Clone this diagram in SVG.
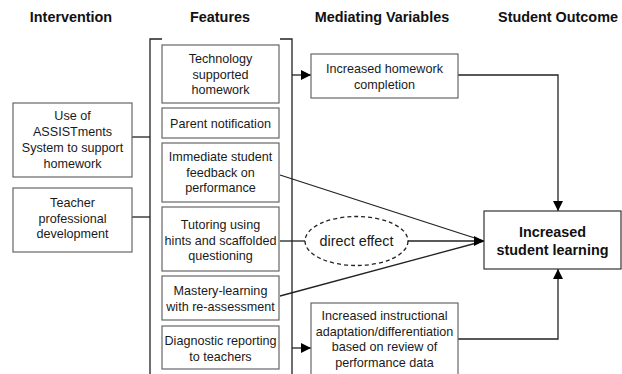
<svg xmlns="http://www.w3.org/2000/svg" width="622" height="374" viewBox="0 0 622 374">
<style>
.hdr{font-family:"Liberation Sans",Arial,sans-serif;font-size:14.4px;font-weight:bold;fill:#111;text-anchor:middle}
.t{font-family:"Liberation Sans",Arial,sans-serif;font-size:12.6px;fill:#1a1a1a;text-anchor:middle}
.b{font-family:"Liberation Sans",Arial,sans-serif;font-size:14.4px;font-weight:bold;fill:#111;text-anchor:middle}
.de{font-family:"Liberation Sans",Arial,sans-serif;font-size:14.4px;fill:#1a1a1a;text-anchor:middle}
.box{fill:#fff;stroke:#666;stroke-width:1.2}
.obox{fill:#fff;stroke:#333;stroke-width:1.2}
.ln{fill:none;stroke:#222;stroke-width:1.3}
</style>
<defs>
<marker id="ah" viewBox="0 0 10 10" refX="10" refY="5" markerWidth="10" markerHeight="10" markerUnits="userSpaceOnUse" orient="auto">
<path d="M0,0 L10,5 L0,10 Z" fill="#000"/>
</marker>
</defs>
<rect width="622" height="374" fill="#fff"/>
<g id="headers">
<text class="hdr" x="71" y="22">Intervention</text>
<text class="hdr" x="220" y="22">Features</text>
<text class="hdr" x="382" y="22">Mediating Variables</text>
<text class="hdr" x="558" y="22">Student Outcome</text>
</g>
<g id="connectors">
<path class="ln" d="M162,39 H150 V380"/>
<path class="ln" d="M280,39 H292 V380"/>
<path class="ln" d="M132,137 H150"/>
<path class="ln" d="M132,217 H150"/>
<path class="ln" d="M292,75 H311" marker-end="url(#ah)"/>
<path class="ln" d="M292,348 H311" marker-end="url(#ah)"/>
<path class="ln" d="M458,75 H558 V211" marker-end="url(#ah)"/>
<path class="ln" d="M458,339 H558 V269" marker-end="url(#ah)"/>
<path class="ln" d="M280,175 L484,241"/>
<path class="ln" d="M280,296 L484,241"/>
<path class="ln" d="M280,241 H305"/>
<path class="ln" d="M408,241 H484" marker-end="url(#ah)"/>
</g>
<g id="n-assist">
<rect class="box" x="13" y="103" width="119" height="74"/>
<text class="t" x="72.5" y="120">Use of</text>
<text class="t" x="72.5" y="136">ASSISTments</text>
<text class="t" x="72.5" y="152">System to support</text>
<text class="t" x="72.5" y="168">homework</text>
</g>
<g id="n-teacher">
<rect class="box" x="13" y="188" width="119" height="64"/>
<text class="t" x="72.5" y="207">Teacher</text>
<text class="t" x="72.5" y="222.5">professional</text>
<text class="t" x="72.5" y="238">development</text>
</g>
<g id="f-tech">
<rect class="box" x="162" y="45" width="117" height="58"/>
<text class="t" x="220.5" y="63">Technology</text>
<text class="t" x="220.5" y="78.5">supported</text>
<text class="t" x="220.5" y="94">homework</text>
</g>
<g id="f-parent">
<rect class="box" x="162" y="108" width="117" height="30"/>
<text class="t" x="220.5" y="127.5">Parent notification</text>
</g>
<g id="f-feedback">
<rect class="box" x="162" y="143" width="117" height="59"/>
<text class="t" x="220.5" y="161">Immediate student</text>
<text class="t" x="220.5" y="176.5">feedback on</text>
<text class="t" x="220.5" y="192">performance</text>
</g>
<g id="f-tutor">
<rect class="box" x="162" y="207" width="117" height="64"/>
<text class="t" x="220.5" y="229">Tutoring using</text>
<text class="t" x="220.5" y="244.5">hints and scaffolded</text>
<text class="t" x="220.5" y="260">questioning</text>
</g>
<g id="f-mastery">
<rect class="box" x="162" y="276" width="117" height="44"/>
<text class="t" x="220.5" y="295">Mastery-learning</text>
<text class="t" x="220.5" y="311">with re-assessment</text>
</g>
<g id="f-diag">
<rect class="box" x="162" y="326" width="117" height="43"/>
<text class="t" x="220.5" y="345">Diagnostic reporting</text>
<text class="t" x="220.5" y="360.5">to teachers</text>
</g>
<g id="m-homework">
<rect class="box" x="311" y="54" width="147" height="44"/>
<text class="t" x="384.5" y="73">Increased homework</text>
<text class="t" x="384.5" y="89">completion</text>
</g>
<g id="m-instruct">
<rect class="box" x="311" y="303" width="147" height="74"/>
<text class="t" x="384.5" y="319.5">Increased instructional</text>
<text class="t" x="384.5" y="335.5">adaptation/differentiation</text>
<text class="t" x="384.5" y="351">based on review of</text>
<text class="t" x="384.5" y="366.5">performance data</text>
</g>
<g id="direct-effect">
<ellipse cx="356.5" cy="241" rx="51.5" ry="24.5" fill="#fff" stroke="#222" stroke-width="1.3" stroke-dasharray="4,3"/>
<text class="de" x="356.5" y="246">direct effect</text>
</g>
<g id="outcome">
<rect class="obox" x="484" y="211" width="137" height="58"/>
<text class="b" x="552.5" y="237">Increased</text>
<text class="b" x="552.5" y="255">student learning</text>
</g>
</svg>
